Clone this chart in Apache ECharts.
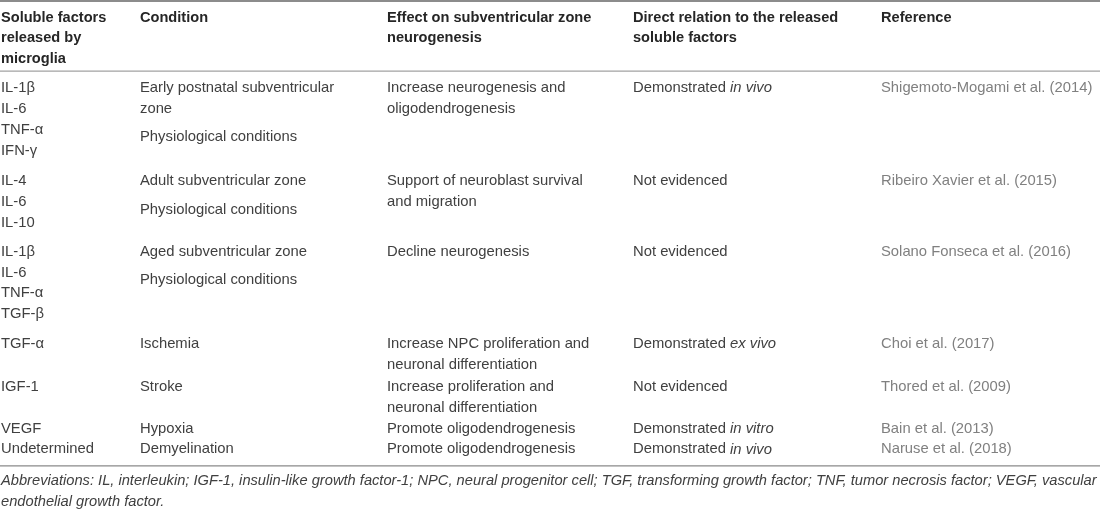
<!DOCTYPE html>
<html>
<head>
<meta charset="utf-8">
<script src="https://cdn.jsdelivr.net/npm/echarts@6/dist/echarts.min.js"></script>
<style>html,body{margin:0;padding:0;background:#fff}#c{width:1100px;height:509px}</style>
</head>
<body>
<div id="c"></div>
<script>
// ---- data ----
const headerLines = [
  ["Soluble factors", "released by", "microglia"],
  ["Condition"],
  ["Effect on subventricular zone", "neurogenesis"],
  ["Direct relation to the released", "soluble factors"],
  ["Reference"]
];
const factors = [
  ["IL-1β", "IL-6", "TNF-α", "IFN-γ"],
  ["IL-4", "IL-6", "IL-10"],
  ["IL-1β", "IL-6", "TNF-α", "TGF-β"],
  ["TGF-α"],
  ["IGF-1"],
  ["VEGF"],
  ["Undetermined"]
];
const conditions = [
  [["Early postnatal subventricular", "zone"], ["Physiological conditions"]],
  [["Adult subventricular zone"], ["Physiological conditions"]],
  [["Aged subventricular zone"], ["Physiological conditions"]],
  [["Ischemia"]],
  [["Stroke"]],
  [["Hypoxia"]],
  [["Demyelination"]]
];
const effects = [
  ["Increase neurogenesis and", "oligodendrogenesis"],
  ["Support of neuroblast survival", "and migration"],
  ["Decline neurogenesis"],
  ["Increase NPC proliferation and", "neuronal differentiation"],
  ["Increase proliferation and", "neuronal differentiation"],
  ["Promote oligodendrogenesis"],
  ["Promote oligodendrogenesis"]
];
const relations = [
  "{n|Demonstrated }{i|in vivo}",
  "{n|Not evidenced}",
  "{n|Not evidenced}",
  "{n|Demonstrated }{i|ex vivo}",
  "{n|Not evidenced}",
  "{n|Demonstrated }{i|in vitro}",
  "{n|Demonstrated }{i|in vivo}"
];
const references = [
  "Shigemoto-Mogami et al. (2014)",
  "Ribeiro Xavier et al. (2015)",
  "Solano Fonseca et al. (2016)",
  "Choi et al. (2017)",
  "Thored et al. (2009)",
  "Bain et al. (2013)",
  "Naruse et al. (2018)"
];
const footnoteLines = [
  "Abbreviations: IL, interleukin; IGF-1, insulin-like growth factor-1; NPC, neural progenitor cell; TGF, transforming growth factor; TNF, tumor necrosis factor; VEGF, vascular",
  "endothelial growth factor."
];

// ---- layout (separate from data) ----
const W = 1100, H = 509;
const colX = [1, 140, 387, 633, 881];
const LH = 20.8, PARA = 7.5;
const headerFirst = 17.5;
const rowGapBefore = [0, 10, 8, 9, 1.5, 0.5, -0.5];
const FONT = '"Liberation Sans", Arial, sans-serif';
const BODY_SIZE = 14.8;
const styles = {
  head: {font: 'bold 14.6px ' + FONT, fill: '#262626'},
  body: {font: BODY_SIZE + 'px ' + FONT, fill: '#404040'},
  ref: {font: BODY_SIZE + 'px ' + FONT, fill: '#808080'},
  foot: {font: 'italic 14.68px ' + FONT, fill: '#404040'}
};

const items = [];
const rules = [];
rules.push({y: 1, w: 1.6, c: '#666'});
headerLines.forEach((lines, c) => lines.forEach((t, i) => items.push({x: colX[c], y: headerFirst + i * LH, text: t, kind: 'head'})));
const headerRule = headerFirst + 2 * LH + 12;
rules.push({y: headerRule, w: 1, c: '#8a8a8a'});
let y = headerRule + 17;
let prevEnd = null;
factors.forEach((f, r) => {
  if (prevEnd !== null) y = prevEnd + LH + rowGapBefore[r];
  let ends = [];
  f.forEach((t, i) => items.push({x: colX[0], y: y + i * LH, text: t, kind: 'body'}));
  ends.push(y + (f.length - 1) * LH);
  let cy = y;
  conditions[r].forEach((para, p) => {
    if (p > 0) cy += LH + PARA;
    para.forEach((t, i) => { items.push({x: colX[1], y: cy, text: t, kind: 'body'}); if (i < para.length - 1) cy += LH; });
  });
  ends.push(cy);
  effects[r].forEach((t, i) => items.push({x: colX[2], y: y + i * LH, text: t, kind: 'body'}));
  ends.push(y + (effects[r].length - 1) * LH);
  items.push({x: colX[3], y: y, text: relations[r], kind: 'body', rich: true});
  items.push({x: colX[4], y: y, text: references[r], kind: 'ref'});
  prevEnd = Math.max(...ends);
});
const bottomRule = prevEnd + 16.5;
rules.push({y: bottomRule, w: 1.2, c: '#8a8a8a'});
footnoteLines.forEach((t, i) => items.push({x: colX[0], y: bottomRule + 15 + i * 21, text: t, kind: 'foot'}));

const chart = echarts.init(document.getElementById('c'), null, {renderer: 'canvas'});
chart.setOption({
  animation: false,
  grid: {left: 0, right: 0, top: 0, bottom: 0},
  xAxis: {type: 'value', min: 0, max: W, show: false},
  yAxis: {type: 'value', min: 0, max: H, inverse: true, show: false},
  series: [
    {
      type: 'custom',
      data: rules.map(r => [r.y]),
      renderItem: (params, api) => {
        const r = rules[params.dataIndex];
        const a = api.coord([0, api.value(0)]);
        const b = api.coord([W, api.value(0)]);
        return {type: 'line', shape: {x1: a[0], y1: a[1], x2: b[0], y2: b[1]}, style: {stroke: r.c, lineWidth: r.w}};
      }
    },
    {
      type: 'custom',
      data: items.map(it => [it.x, it.y]),
      renderItem: (params, api) => {
        const it = items[params.dataIndex];
        const p = api.coord([api.value(0), api.value(1)]);
        const st = styles[it.kind];
        const style = {
          text: it.text, font: st.font, fill: st.fill,
          verticalAlign: 'middle', align: 'left'
        };
        if (it.rich) {
          style.lineHeight = 18;
          style.rich = {
            n: {fontSize: BODY_SIZE, fontFamily: FONT, fill: st.fill, lineHeight: 18, verticalAlign: 'middle'},
            i: {fontStyle: 'italic', fontSize: BODY_SIZE, fontFamily: FONT, fill: st.fill, lineHeight: 18, verticalAlign: 'middle'}
          };
        }
        return {type: 'text', x: p[0], y: p[1], style};
      }
    }
  ]
});
</script>
</body>
</html>
